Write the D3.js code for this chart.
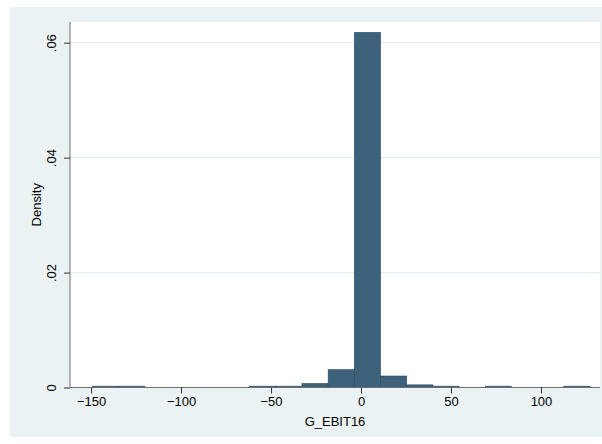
<!DOCTYPE html>
<html>
<head>
<meta charset="utf-8">
<script src="https://cdn.jsdelivr.net/npm/d3@7"></script>
<style>
  html, body { margin: 0; padding: 0; background: #ffffff; }
  svg { display: block; font-family: "Liberation Sans", Arial, sans-serif; }
</style>
</head>
<body>
<svg id="svg" width="602" height="444"></svg>
<script>
// histogram of G_EBIT16 (Stata style), bins of equal width
var binStart = -149.2;
var binWidth = 14.55;
var density = [0.00023, 0.00023, 0, 0, 0, 0, 0.00023, 0.00023, 0.0007, 0.0031,
               0.0618, 0.0020, 0.00046, 0.00023, 0, 0.00023, 0, 0, 0.00023];
var xTicks = [-150, -100, -50, 0, 50, 100];
var yTicks = [0, 0.02, 0.04, 0.06];
var yTickLabels = ["0", ".02", ".04", ".06"];
var xTitle = "G_EBIT16";
var yTitle = "Density";

var svg = d3.select("svg");

// outer graph region
svg.append("rect")
    .attr("x", 10).attr("y", 7)
    .attr("width", 592).attr("height", 430)
    .attr("fill", "#eaf2f3");

// plot region
var plot = {left: 70, right: 600, top: 22, bottom: 387.5};

svg.append("rect")
    .attr("x", plot.left).attr("y", plot.top)
    .attr("width", plot.right - plot.left).attr("height", plot.bottom - plot.top)
    .attr("fill", "#ffffff");

var xScale = d3.scaleLinear()
    .domain([-161.7, 132.8])
    .range([plot.left, plot.right]);

var yScale = d3.scaleLinear()
    .domain([0, 0.0636])
    .range([plot.bottom, plot.top]);

// gridlines
svg.append("g")
    .selectAll("line")
    .data(yTicks.filter(function(d) { return d > 0; }))
    .enter().append("line")
    .attr("x1", plot.left).attr("x2", plot.right)
    .attr("y1", function(d) { return yScale(d); })
    .attr("y2", function(d) { return yScale(d); })
    .attr("stroke", "#e3ecee")
    .attr("stroke-width", 1.2);

// bars
var bins = density.map(function(d, i) {
    return {x0: binStart + i * binWidth, x1: binStart + (i + 1) * binWidth, y: d};
});

svg.append("g")
    .selectAll("rect")
    .data(bins.filter(function(d) { return d.y > 0; }))
    .enter().append("rect")
    .attr("x", function(d) { return xScale(d.x0); })
    .attr("width", function(d) { return xScale(d.x1) - xScale(d.x0); })
    .attr("y", function(d) { return yScale(d.y); })
    .attr("height", function(d) { return yScale(0) - yScale(d.y); })
    .attr("fill", "#3e617c")
    .attr("stroke", "#2a4a66")
    .attr("stroke-width", 0.6);

// y axis
var yAxis = svg.append("g")
    .attr("transform", "translate(" + plot.left + ",0)")
    .call(d3.axisLeft(yScale)
        .tickValues(yTicks)
        .tickFormat(function(d, i) { return yTickLabels[i]; })
        .tickSize(6)
        .tickPadding(4));
yAxis.select(".domain").attr("stroke", "#6e6e6e").attr("d", "M0," + plot.top + "V" + plot.bottom);
yAxis.selectAll(".tick line").attr("stroke", "#333");
yAxis.selectAll(".tick text")
    .attr("font-size", 13)
    .attr("fill", "#000")
    .attr("text-anchor", "middle")
    .attr("transform", "rotate(-90)")
    .attr("x", 0)
    .attr("y", 0)
    .attr("dy", "-14")
    .attr("dx", null);

// x axis
var xAxis = svg.append("g")
    .attr("transform", "translate(0," + plot.bottom + ")")
    .call(d3.axisBottom(xScale)
        .tickValues(xTicks)
        .tickFormat(d3.format("d"))
        .tickSize(6)
        .tickPadding(3));
xAxis.select(".domain").attr("stroke", "#6e6e6e").attr("d", "M" + plot.left + ",0H" + plot.right);
xAxis.selectAll(".tick line").attr("stroke", "#333");
xAxis.selectAll(".tick text").attr("font-size", 13).attr("fill", "#000");

// axis titles, centred on the plot region
svg.append("text")
    .attr("x", (plot.left + plot.right) / 2)
    .attr("y", 426)
    .attr("text-anchor", "middle")
    .attr("font-size", 13)
    .text(xTitle);

svg.append("text")
    .attr("transform", "translate(41," + (plot.top + plot.bottom) / 2 + ") rotate(-90)")
    .attr("text-anchor", "middle")
    .attr("font-size", 13)
    .text(yTitle);
</script>
</body>
</html>
